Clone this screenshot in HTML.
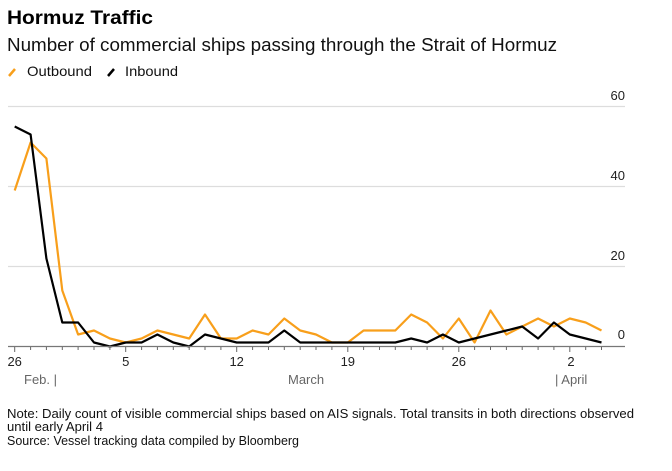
<!DOCTYPE html>
<html><head><meta charset="utf-8"><style>
body{margin:0;background:#fff;width:672px;height:466px;overflow:hidden;font-family:"Liberation Sans",Arial,sans-serif;}
</style></head><body>
<svg width="672" height="466" xmlns="http://www.w3.org/2000/svg" font-family="Liberation Sans, Arial, sans-serif">
<text x="7" y="24" font-size="19" font-weight="bold" fill="#000" textLength="146" lengthAdjust="spacingAndGlyphs">Hormuz Traffic</text>
<text x="7" y="51" font-size="18" fill="#111" textLength="550" lengthAdjust="spacingAndGlyphs">Number of commercial ships passing through the Strait of Hormuz</text>
<line x1="9" y1="76" x2="15" y2="69" stroke="#f89f1b" stroke-width="2.5"/>
<text x="27" y="76" font-size="14" fill="#111" textLength="65" lengthAdjust="spacingAndGlyphs">Outbound</text>
<line x1="108" y1="76" x2="114" y2="69" stroke="#000" stroke-width="2.5"/>
<text x="125" y="76" font-size="14" fill="#111" textLength="53" lengthAdjust="spacingAndGlyphs">Inbound</text>
<g stroke="#ddd" stroke-width="1.2">
<line x1="8" y1="106.5" x2="625" y2="106.5"/>
<line x1="8" y1="186.5" x2="625" y2="186.5"/>
<line x1="8" y1="266.5" x2="625" y2="266.5"/>
</g>
<g font-size="13" fill="#222" text-anchor="end">
<text x="625" y="100">60</text><text x="625" y="180">40</text><text x="625" y="260">20</text><text x="625" y="339">0</text>
</g>
<polyline fill="none" stroke="#f89f1b" stroke-width="2.2" stroke-linejoin="round" points="14.7,190.5 30.6,142.5 46.4,158.5 62.3,290.5 78.1,334.5 94.0,330.5 109.9,338.5 125.7,342.5 141.6,338.5 157.4,330.5 173.3,334.5 189.2,338.5 205.0,314.5 220.9,338.5 236.7,338.5 252.6,330.5 268.5,334.5 284.3,318.5 300.2,330.5 316.0,334.5 331.9,342.5 347.8,342.5 363.6,330.5 379.5,330.5 395.3,330.5 411.2,314.5 427.1,322.5 442.9,338.5 458.8,318.5 474.6,342.5 490.5,310.5 506.4,334.5 522.2,326.5 538.1,318.5 553.9,326.5 569.8,318.5 585.7,322.5 601.5,330.5"/>
<polyline fill="none" stroke="#000" stroke-width="2.2" stroke-linejoin="round" points="14.7,126.5 30.6,134.5 46.4,258.5 62.3,322.5 78.1,322.5 94.0,342.5 109.9,346.5 125.7,342.5 141.6,342.5 157.4,334.5 173.3,342.5 189.2,346.5 205.0,334.5 220.9,338.5 236.7,342.5 252.6,342.5 268.5,342.5 284.3,330.5 300.2,342.5 316.0,342.5 331.9,342.5 347.8,342.5 363.6,342.5 379.5,342.5 395.3,342.5 411.2,338.5 427.1,342.5 442.9,334.5 458.8,342.5 474.6,338.5 490.5,334.5 506.4,330.5 522.2,326.5 538.1,338.5 553.9,322.5 569.8,334.5 585.7,338.5 601.5,342.5"/>
<line x1="8" y1="346.5" x2="625" y2="346.5" stroke="#777" stroke-width="1.2"/>
<g stroke="#666" stroke-width="1">
<line x1="14.7" y1="347" x2="14.7" y2="352"/><line x1="30.6" y1="347" x2="30.6" y2="350"/><line x1="46.4" y1="347" x2="46.4" y2="350"/><line x1="62.3" y1="347" x2="62.3" y2="350"/><line x1="78.1" y1="347" x2="78.1" y2="350"/><line x1="94.0" y1="347" x2="94.0" y2="350"/><line x1="109.9" y1="347" x2="109.9" y2="350"/><line x1="125.7" y1="347" x2="125.7" y2="352"/><line x1="141.6" y1="347" x2="141.6" y2="350"/><line x1="157.4" y1="347" x2="157.4" y2="350"/><line x1="173.3" y1="347" x2="173.3" y2="350"/><line x1="189.2" y1="347" x2="189.2" y2="350"/><line x1="205.0" y1="347" x2="205.0" y2="350"/><line x1="220.9" y1="347" x2="220.9" y2="350"/><line x1="236.7" y1="347" x2="236.7" y2="352"/><line x1="252.6" y1="347" x2="252.6" y2="350"/><line x1="268.5" y1="347" x2="268.5" y2="350"/><line x1="284.3" y1="347" x2="284.3" y2="350"/><line x1="300.2" y1="347" x2="300.2" y2="350"/><line x1="316.0" y1="347" x2="316.0" y2="350"/><line x1="331.9" y1="347" x2="331.9" y2="350"/><line x1="347.8" y1="347" x2="347.8" y2="352"/><line x1="363.6" y1="347" x2="363.6" y2="350"/><line x1="379.5" y1="347" x2="379.5" y2="350"/><line x1="395.3" y1="347" x2="395.3" y2="350"/><line x1="411.2" y1="347" x2="411.2" y2="350"/><line x1="427.1" y1="347" x2="427.1" y2="350"/><line x1="442.9" y1="347" x2="442.9" y2="350"/><line x1="458.8" y1="347" x2="458.8" y2="352"/><line x1="474.6" y1="347" x2="474.6" y2="350"/><line x1="490.5" y1="347" x2="490.5" y2="350"/><line x1="506.4" y1="347" x2="506.4" y2="350"/><line x1="522.2" y1="347" x2="522.2" y2="350"/><line x1="538.1" y1="347" x2="538.1" y2="350"/><line x1="553.9" y1="347" x2="553.9" y2="350"/><line x1="569.8" y1="347" x2="569.8" y2="352"/><line x1="585.7" y1="347" x2="585.7" y2="350"/><line x1="601.5" y1="347" x2="601.5" y2="350"/>
</g>
<g font-size="13" fill="#222" text-anchor="middle">
<text x="14.7" y="366">26</text><text x="125.7" y="366">5</text><text x="236.7" y="366">12</text><text x="347.8" y="366">19</text><text x="458.8" y="366">26</text><text x="571" y="366">2</text>
</g>
<g font-size="13" fill="#666">
<text x="24" y="384">Feb. |</text><text x="288" y="384">March</text><text x="555" y="384">| April</text>
</g>
<g font-size="12.5" fill="#111">
<text x="7" y="418" textLength="627" lengthAdjust="spacingAndGlyphs">Note: Daily count of visible commercial ships based on AIS signals. Total transits in both directions observed</text>
<text x="7" y="431" textLength="96" lengthAdjust="spacingAndGlyphs">until early April 4</text>
<text x="7" y="445" textLength="292" lengthAdjust="spacingAndGlyphs">Source: Vessel tracking data compiled by Bloomberg</text>
</g>
</svg>
</body></html>
